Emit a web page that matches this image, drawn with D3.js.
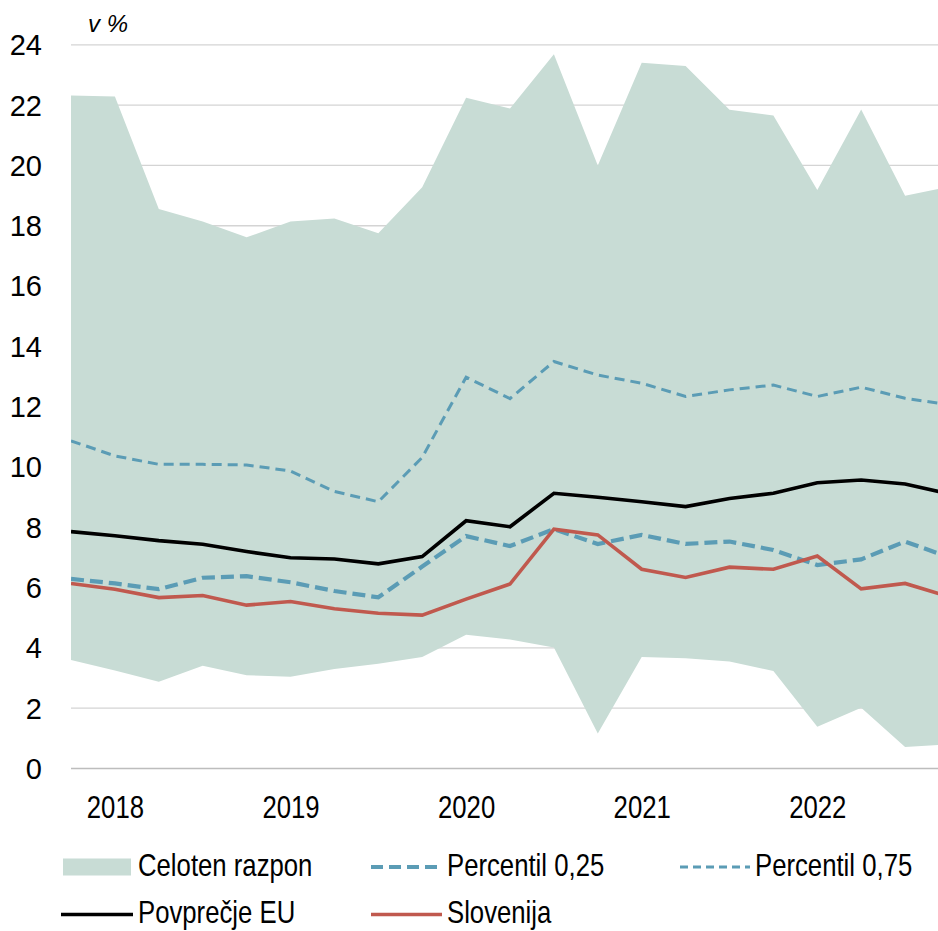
<!DOCTYPE html>
<html>
<head>
<meta charset="utf-8">
<script src="https://cdn.jsdelivr.net/npm/d3@7"></script>
<style>
  body { margin: 0; background: #fff; }
  text { font-family: "Liberation Sans", Arial, sans-serif; fill: #000; }
</style>
</head>
<body>
<div id="chart"></div>
<script>
//Quarters shown on the x axis (first and last are cut by the plot edges)
let periods = ["2017Q4",
  "2018Q1","2018Q2","2018Q3","2018Q4",
  "2019Q1","2019Q2","2019Q3","2019Q4",
  "2020Q1","2020Q2","2020Q3","2020Q4",
  "2021Q1","2021Q2","2021Q3","2021Q4",
  "2022Q1","2022Q2","2022Q3","2022Q4"];

//Series values in %
let rangeMax = [22.3, 22.27, 18.54, 18.12, 17.6, 18.12, 18.22, 17.73, 19.26, 22.23, 21.87,
  23.67, 19.98, 23.39, 23.28, 21.83, 21.64, 19.17, 21.84, 18.98, 19.27];
let rangeMin = [3.58, 3.23, 2.86, 3.39, 3.08, 3.03, 3.28, 3.46, 3.68, 4.42, 4.26,
  4.0, 1.14, 3.68, 3.64, 3.53, 3.22, 1.37, 2.0, 0.7, 0.78];
let p25 = [6.27, 6.12, 5.93, 6.31, 6.36, 6.16, 5.87, 5.66, 6.68, 7.69, 7.36,
  7.92, 7.43, 7.73, 7.43, 7.51, 7.23, 6.73, 6.92, 7.51, 6.99];
let p75 = [10.85, 10.35, 10.07, 10.07, 10.05, 9.85, 9.17, 8.83, 10.3, 12.96, 12.25,
  13.48, 13.03, 12.76, 12.32, 12.54, 12.7, 12.32, 12.63, 12.26, 12.05];
let euAvg = [7.84, 7.7, 7.54, 7.42, 7.18, 6.97, 6.93, 6.77, 7.01, 8.2, 8.0,
  9.11, 8.98, 8.83, 8.67, 8.94, 9.11, 9.46, 9.55, 9.42, 9.09];
let slovenia = [6.12, 5.93, 5.65, 5.72, 5.4, 5.52, 5.28, 5.13, 5.07, 5.6, 6.1,
  7.92, 7.73, 6.59, 6.32, 6.66, 6.59, 7.03, 5.94, 6.12, 5.68];

//Tick labels
let yTicks = [0, 2, 4, 6, 8, 10, 12, 14, 16, 18, 20, 22, 24];
let yearLabels = ["2018", "2019", "2020", "2021", "2022"];
let unitLabel = "v %";

//Legend labels
let legendNames = ["Celoten razpon", "Percentil 0,25", "Percentil 0,75", "Povprečje EU", "Slovenija"];

//No narrow font installed, so squeeze the regular one sideways
let narrow = 0.83;

function drawChart() {
  let width = 938, height = 931;
  let plotLeft = 71, plotRight = 938;

  let svg = d3.select("#chart")
    .append("svg")
    .attr("width", width)
    .attr("height", height);

  // x: one point per quarter, the last one runs past the right edge
  let x = d3.scalePoint()
    .domain(periods)
    .range([plotLeft, plotLeft + 43.9 * (periods.length - 1)]);

  let y = d3.scaleLinear()
    .domain([0, 24])
    .range([768, 44.3]);

  svg.append("clipPath")
    .attr("id", "plotClip")
    .append("rect")
    .attr("x", plotLeft)
    .attr("y", 0)
    .attr("width", plotRight - plotLeft)
    .attr("height", height);

  // gridlines
  let grid = svg.append("g")
    .attr("transform", "translate(" + plotLeft + ",0)")
    .call(d3.axisLeft(y).tickValues(yTicks).tickSize(-(plotRight - plotLeft)).tickFormat(""));
  grid.select(".domain").remove();
  grid.selectAll(".tick line")
    .attr("stroke", function(d) { return d === 0 ? "#bdbdbd" : "#d4d4d4"; })
    .attr("stroke-width", 1.3);

  // y tick labels
  let yAxis = svg.append("g")
    .attr("transform", "translate(" + 42 + ",0)")
    .call(d3.axisLeft(y).tickValues(yTicks).tickSize(0).tickPadding(0));
  yAxis.select(".domain").remove();
  yAxis.selectAll("text")
    .style("font-size", "29px")
    .attr("dy", "0.36em");

  // x labels on the first quarter of each year
  let xAxis = svg.append("g")
    .attr("transform", "translate(0,768)")
    .call(d3.axisBottom(x)
      .tickValues(yearLabels.map(function(yr) { return yr + "Q1"; }))
      .tickSize(0)
      .tickPadding(0)
      .tickFormat(function(d) { return d.slice(0, 4); }));
  xAxis.select(".domain").remove();
  xAxis.selectAll("text")
    .style("font-size", "31px")
    .attr("y", 0)
    .attr("dy", null)
    .attr("transform", "translate(0,50) scale(" + narrow + ",1)");

  svg.append("text")
    .attr("x", 88)
    .attr("y", 32)
    .style("font-size", "24px")
    .style("font-style", "italic")
    .text(unitLabel);

  let plot = svg.append("g").attr("clip-path", "url(#plotClip)");

  // full range band
  let area = d3.area()
    .x(function(d, i) { return x(periods[i]); })
    .y0(function(d, i) { return y(rangeMin[i]); })
    .y1(function(d, i) { return y(rangeMax[i]); });

  plot.append("path")
    .datum(rangeMax)
    .attr("d", area)
    .attr("fill", "#c8dcd5");

  let line = d3.line()
    .x(function(d, i) { return x(periods[i]); })
    .y(function(d) { return y(d); });

  plot.append("path")
    .datum(p75)
    .attr("d", line)
    .attr("fill", "none")
    .attr("stroke", "#5b9cb5")
    .attr("stroke-width", 3)
    .attr("stroke-dasharray", "10,6");

  plot.append("path")
    .datum(p25)
    .attr("d", line)
    .attr("fill", "none")
    .attr("stroke", "#5b9cb5")
    .attr("stroke-width", 4.2)
    .attr("stroke-dasharray", "13,6");

  plot.append("path")
    .datum(euAvg)
    .attr("d", line)
    .attr("fill", "none")
    .attr("stroke", "#000")
    .attr("stroke-width", 3.6);

  plot.append("path")
    .datum(slovenia)
    .attr("d", line)
    .attr("fill", "none")
    .attr("stroke", "#c0594e")
    .attr("stroke-width", 3.6);

  // legend
  let legend = svg.append("g");
  let items = [
    {name: legendNames[0], type: "rect", x: 63, y: 867, tx: 138, base: 876},
    {name: legendNames[1], type: "line", x: 371, y: 867, tx: 447, base: 876, color: "#5b9cb5", w: 4.2, dash: "12,6"},
    {name: legendNames[2], type: "line", x: 680, y: 867, tx: 755, base: 876, color: "#5b9cb5", w: 3, dash: "8,5"},
    {name: legendNames[3], type: "line", x: 61, y: 914.5, tx: 138, base: 923, color: "#000", w: 3.6, dash: null},
    {name: legendNames[4], type: "line", x: 371, y: 914.5, tx: 447, base: 923, color: "#c0594e", w: 3.6, dash: null}
  ];

  items.forEach(function(it) {
    if (it.type === "rect") {
      legend.append("rect")
        .attr("x", it.x)
        .attr("y", it.y - 8.5)
        .attr("width", 68)
        .attr("height", 17)
        .attr("fill", "#c8dcd5");
    } else {
      legend.append("line")
        .attr("x1", it.x)
        .attr("x2", it.tx - 5)
        .attr("y1", it.y)
        .attr("y2", it.y)
        .attr("stroke", it.color)
        .attr("stroke-width", it.w)
        .attr("stroke-dasharray", it.dash);
    }
    legend.append("text")
      .attr("transform", "translate(" + it.tx + "," + it.base + ") scale(" + narrow + ",1)")
      .style("font-size", "31px")
      .text(it.name);
  });
}

drawChart();
</script>
</body>
</html>
